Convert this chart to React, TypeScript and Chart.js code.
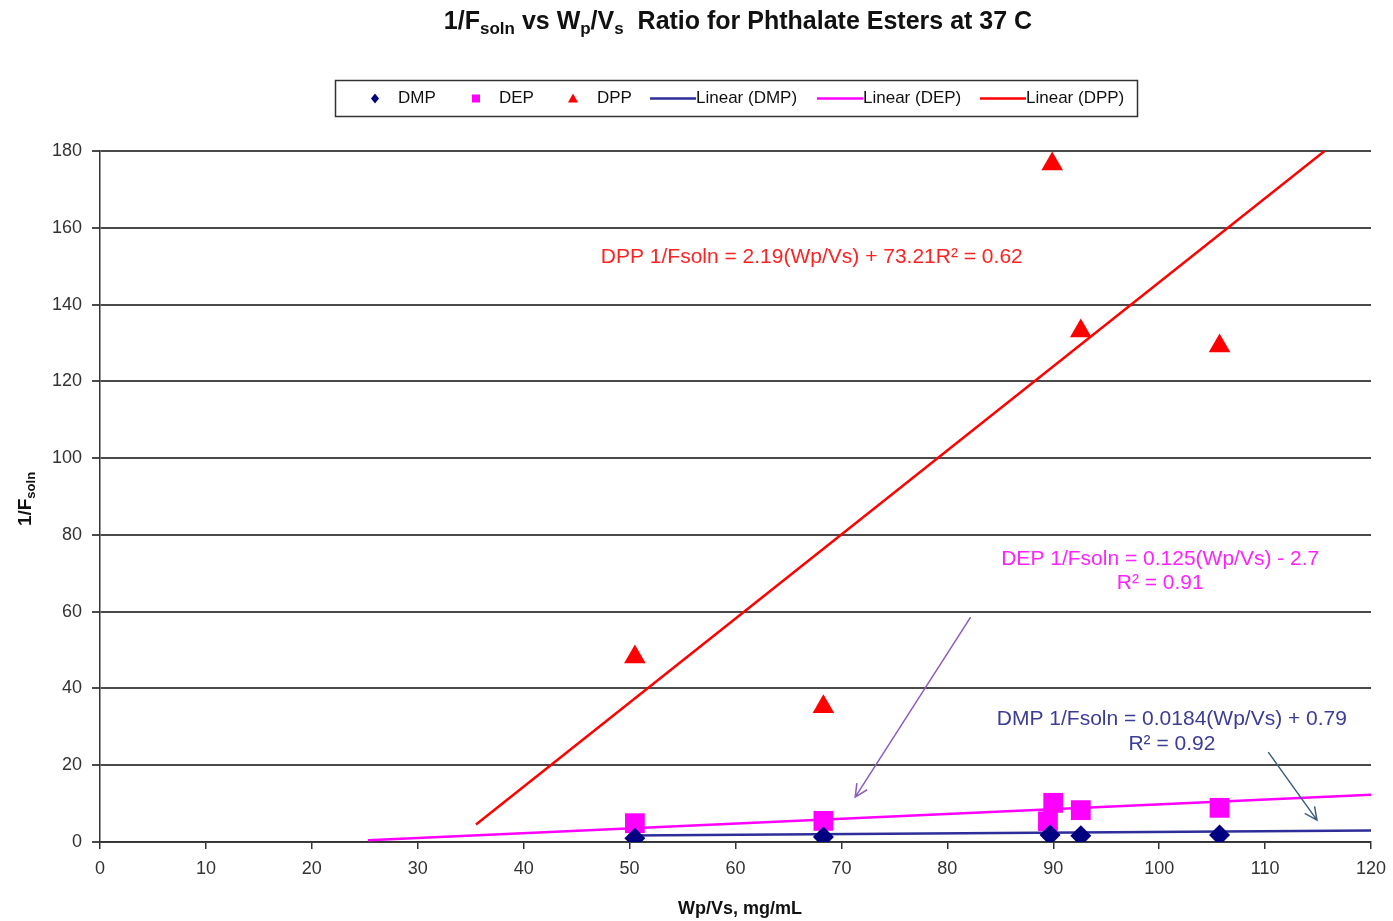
import React, { useEffect, useRef } from "react";
import { Chart, registerables } from "chart.js";

Chart.register(...registerables);

const FONT = "'Liberation Sans', Arial, sans-serif";

// Measured data
const dmpX = [50.5, 68.3, 89.7, 92.6, 105.7];
const dmpY = [1.0, 1.3, 1.8, 1.6, 1.8];
const depX = [50.5, 68.3, 89.5, 90.0, 92.6, 105.7];
const depY = [4.9, 5.5, 5.4, 10.2, 8.3, 8.9];
const dppX = [50.5, 68.3, 89.9, 92.6, 105.7];
const dppY = [48.2, 35.2, 176.6, 133.1, 129.2];

// Trend lines (as drawn): slope, intercept, x-range
const dmpTrend = { slope: 0.0184, intercept: 0.79, from: 50, to: 120 };
const depTrend = { slope: 0.125, intercept: -2.7, from: 25.3, to: 120 };
const dppTrend = { slope: 2.19, intercept: -73.21, from: 35.5, to: 120 };

const xTicks = [0, 10, 20, 30, 40, 50, 60, 70, 80, 90, 100, 110, 120];
const yTicks = [0, 20, 40, 60, 80, 100, 120, 140, 160, 180];

const DMP_COLOR = "#000080";
const DEP_COLOR = "#ff00ff";
const DPP_COLOR = "#ff0000";
const DMP_LINE = "#2e2e9a";

const zip = (xs: number[], ys: number[]) => xs.map((x, i) => ({ x, y: ys[i] }));
const trend = (t: { slope: number; intercept: number; from: number; to: number }) => [
  { x: t.from, y: t.slope * t.from + t.intercept },
  { x: t.to, y: t.slope * t.to + t.intercept },
];

type Seg = { t: string; sub?: boolean };

function drawSegs(ctx: CanvasRenderingContext2D, segs: Seg[], cx: number, cy: number, size: number, subSize: number, subDy: number, weight = "bold") {
  const main = `${weight} ${size}px ${FONT}`;
  const sub = `${weight} ${subSize}px ${FONT}`;
  let w = 0;
  segs.forEach((s) => {
    ctx.font = s.sub ? sub : main;
    w += ctx.measureText(s.t).width;
  });
  let x = cx - w / 2;
  ctx.textAlign = "left";
  ctx.textBaseline = "alphabetic";
  segs.forEach((s) => {
    ctx.font = s.sub ? sub : main;
    ctx.fillText(s.t, x, cy + (s.sub ? subDy : 0));
    x += ctx.measureText(s.t).width;
  });
}

function arrow(ctx: CanvasRenderingContext2D, x1: number, y1: number, x2: number, y2: number, color: string) {
  ctx.save();
  ctx.strokeStyle = color;
  ctx.lineWidth = 1.5;
  ctx.beginPath();
  ctx.moveTo(x1, y1);
  ctx.lineTo(x2, y2);
  const a = Math.atan2(y2 - y1, x2 - x1);
  const L = 14;
  ctx.moveTo(x2 - L * Math.cos(a - 0.45), y2 - L * Math.sin(a - 0.45));
  ctx.lineTo(x2, y2);
  ctx.lineTo(x2 - L * Math.cos(a + 0.45), y2 - L * Math.sin(a + 0.45));
  ctx.stroke();
  ctx.restore();
}

const overlay = {
  id: "overlay",
  afterDraw(chart: any) {
    const ctx: CanvasRenderingContext2D = chart.ctx;
    const xs = chart.scales.x;
    const ys = chart.scales.y;
    ctx.save();
    ctx.fillStyle = "#111";
    // Title
    drawSegs(
      ctx,
      [
        { t: "1/F" },
        { t: "soln", sub: true },
        { t: " vs W" },
        { t: "p", sub: true },
        { t: "/V" },
        { t: "s", sub: true },
        { t: "  Ratio for Phthalate Esters at 37 C" },
      ],
      738,
      29,
      25,
      17,
      5
    );
    // X title
    ctx.font = `bold 18px ${FONT}`;
    ctx.textAlign = "center";
    ctx.textBaseline = "alphabetic";
    ctx.fillText("Wp/Vs, mg/mL", 740, 914);
    // Y title
    ctx.save();
    ctx.translate(31, 499);
    ctx.rotate(-Math.PI / 2);
    drawSegs(ctx, [{ t: "1/F" }, { t: "soln", sub: true }], 0, 0, 19, 13, 4);
    ctx.restore();

    // Legend
    ctx.save();
    ctx.fillStyle = "#fff";
    ctx.strokeStyle = "#333";
    ctx.lineWidth = 1.5;
    ctx.fillRect(335.5, 80.5, 802, 36);
    ctx.strokeRect(335.5, 80.5, 802, 36);
    const ly = 98.5;
    ctx.font = `17px ${FONT}`;
    ctx.textBaseline = "middle";
    ctx.textAlign = "left";
    // diamond
    ctx.fillStyle = DMP_COLOR;
    ctx.beginPath();
    ctx.moveTo(375, ly - 5);
    ctx.lineTo(379, ly);
    ctx.lineTo(375, ly + 5);
    ctx.lineTo(371, ly);
    ctx.closePath();
    ctx.fill();
    ctx.fillStyle = DEP_COLOR;
    ctx.fillRect(472, ly - 4, 8, 8);
    ctx.fillStyle = DPP_COLOR;
    ctx.beginPath();
    ctx.moveTo(573, ly - 5);
    ctx.lineTo(578, ly + 4);
    ctx.lineTo(568, ly + 4);
    ctx.closePath();
    ctx.fill();
    ctx.fillStyle = "#111";
    ctx.fillText("DMP", 398, ly);
    ctx.fillText("DEP", 499, ly);
    ctx.fillText("DPP", 597, ly);
    const lines: [number, string, string][] = [
      [650, DMP_LINE, "Linear (DMP)"],
      [817, DEP_COLOR, "Linear (DEP)"],
      [980, DPP_COLOR, "Linear (DPP)"],
    ];
    lines.forEach(([x, c, t]) => {
      ctx.strokeStyle = c;
      ctx.lineWidth = 2.5;
      ctx.beginPath();
      ctx.moveTo(x, ly);
      ctx.lineTo(x + 46, ly);
      ctx.stroke();
      ctx.fillStyle = "#111";
      ctx.fillText(t, x + 46, ly);
    });
    ctx.restore();

    // Equation annotations
    ctx.font = `21px ${FONT}`;
    ctx.textAlign = "center";
    ctx.textBaseline = "middle";
    ctx.fillStyle = "#ff2222";
    ctx.fillText("DPP 1/Fsoln = 2.19(Wp/Vs) + 73.21R\u00b2 = 0.62", xs.getPixelForValue(67.2), ys.getPixelForValue(152.4));
    ctx.fillStyle = "#ff22ff";
    ctx.fillText("DEP 1/Fsoln = 0.125(Wp/Vs) - 2.7", xs.getPixelForValue(100.1), ys.getPixelForValue(73.7));
    ctx.fillText("R\u00b2 = 0.91", xs.getPixelForValue(100.1), ys.getPixelForValue(67.4));
    ctx.fillStyle = "#3c3c96";
    ctx.fillText("DMP 1/Fsoln = 0.0184(Wp/Vs) + 0.79", xs.getPixelForValue(101.2), ys.getPixelForValue(31.9));
    ctx.fillText("R\u00b2 = 0.92", xs.getPixelForValue(101.2), ys.getPixelForValue(25.4));

    // Arrows
    arrow(ctx, xs.getPixelForValue(82.2), ys.getPixelForValue(58.6), xs.getPixelForValue(71.3), ys.getPixelForValue(11.7), "#8a5cc0");
    arrow(ctx, xs.getPixelForValue(110.3), ys.getPixelForValue(23.4), xs.getPixelForValue(114.9), ys.getPixelForValue(5.7), "#3f5f80");
    ctx.restore();
  },
};

export default function App() {
  const ref = useRef<HTMLCanvasElement>(null);
  useEffect(() => {
    if (!ref.current) return;
    const chart = new Chart(ref.current, {
      type: "scatter",
      data: {
        datasets: [
          {
            label: "DMP",
            data: zip(dmpX, dmpY),
            pointStyle: "rectRot",
            pointRadius: 10.5,
            backgroundColor: DMP_COLOR,
            borderColor: DMP_COLOR,
            borderWidth: 0,
          },
          {
            label: "DEP",
            data: zip(depX, depY),
            pointStyle: "rect",
            pointRadius: 14,
            backgroundColor: DEP_COLOR,
            borderColor: DEP_COLOR,
            borderWidth: 0,
          },
          {
            label: "DPP",
            data: zip(dppX, dppY),
            pointStyle: "triangle",
            pointRadius: 12.5,
            backgroundColor: DPP_COLOR,
            borderColor: DPP_COLOR,
            borderWidth: 0,
          },
          {
            label: "Linear (DMP)",
            data: trend(dmpTrend),
            showLine: true,
            pointRadius: 0,
            borderColor: DMP_LINE,
            borderWidth: 2.5,
            clip: 0,
          } as any,
          {
            label: "Linear (DEP)",
            data: trend(depTrend),
            showLine: true,
            pointRadius: 0,
            borderColor: DEP_COLOR,
            borderWidth: 2.5,
            clip: 0,
          } as any,
          {
            label: "Linear (DPP)",
            data: trend(dppTrend),
            showLine: true,
            pointRadius: 0,
            borderColor: DPP_COLOR,
            borderWidth: 2.5,
            clip: 0,
          } as any,
        ],
      },
      options: {
        responsive: false,
        animation: false,
        events: [],
        layout: { padding: { left: 0, top: 151, right: 22, bottom: 0 } },
        plugins: {
          legend: { display: false },
          title: { display: false },
          tooltip: { enabled: false },
        },
        scales: {
          x: {
            type: "linear",
            min: 0,
            max: 120,
            afterBuildTicks: (s: any) => {
              s.ticks = xTicks.map((v) => ({ value: v }));
            },
            ticks: { color: "#333", font: { family: FONT, size: 18 }, padding: 9, maxRotation: 0 },
            grid: { drawOnChartArea: false, drawTicks: true, tickLength: 7, color: "#333", lineWidth: 1.5 },
            border: { color: "#333", width: 1.5 },
            afterFit: (s: any) => {
              s.height = 79;
              s.paddingLeft = 0;
              s.paddingRight = 0;
            },
          },
          y: {
            type: "linear",
            min: 0,
            max: 180,
            afterBuildTicks: (s: any) => {
              s.ticks = yTicks.map((v) => ({ value: v }));
            },
            ticks: { color: "#333", font: { family: FONT, size: 18 }, padding: 10 },
            grid: { color: "#4a4a4a", lineWidth: 2, tickLength: 8 },
            border: { color: "#333", width: 1.5 },
            afterFit: (s: any) => {
              s.width = 100;
              s.paddingTop = 0;
              s.paddingBottom = 0;
            },
          },
        },
      },
      plugins: [overlay],
    } as any);
    return () => chart.destroy();
  }, []);
  return (
    <div style={{ position: "absolute", left: 0, top: 0, width: 1393, height: 921, background: "#fff" }}>
      <canvas ref={ref} width={1393} height={921} style={{ display: "block" }} />
    </div>
  );
}
